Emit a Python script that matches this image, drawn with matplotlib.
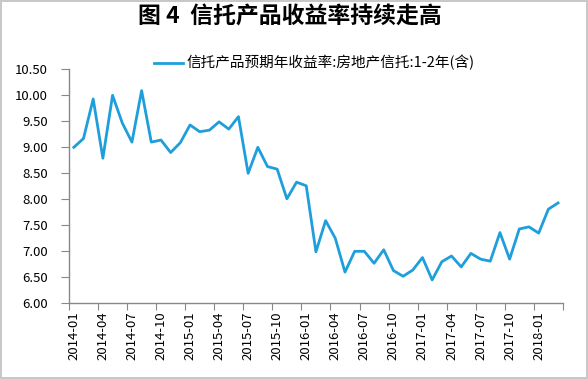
import numpy as np
import matplotlib.pyplot as plt

plt.rcParams['font.family'] = ['Noto Sans CJK SC', 'DejaVu Sans']

# 月度数据 2014-01 ~ 2018-03
months = [f"{2014 + i // 12}-{i % 12 + 1:02d}" for i in range(51)]
yields = [9.00, 9.17, 9.93, 8.79, 10.00, 9.47, 9.10, 10.09, 9.10, 9.14,
          8.90, 9.09, 9.43, 9.30, 9.33, 9.49, 9.35, 9.59, 8.50, 9.00,
          8.63, 8.58, 8.01, 8.33, 8.26, 6.99, 7.59, 7.25, 6.60, 7.00,
          7.00, 6.77, 7.03, 6.63, 6.52, 6.64, 6.88, 6.45, 6.80, 6.91,
          6.70, 6.96, 6.85, 6.81, 7.36, 6.85, 7.43, 7.47, 7.35, 7.81, 7.93]
series_name = '信托产品预期年收益率:房地产信托:1-2年(含)'
title = '图 4  信托产品收益率持续走高'

fig = plt.figure(figsize=(5.88, 3.79), dpi=100)
fig.patch.set_edgecolor('#c8c8c8')
fig.patch.set_linewidth(1.5)
ax = fig.add_axes([0.1173, 0.1997, 0.840, 0.6174])

x = np.arange(len(yields))
line, = ax.plot(x, yields, color='#1e9fdc', linewidth=2.0, label=series_name)

ax.set_ylim(6.0, 10.5)
ax.set_yticks(np.arange(6.0, 10.51, 0.5))
ax.set_yticklabels([f"{v:.2f}" for v in np.arange(6.0, 10.51, 0.5)])
ax.set_xlim(-0.5, len(yields) - 0.5)

# 主刻度在类别边界，标签在类别中心
ax.set_xticks(np.arange(-0.5, len(yields), 3))
ax.set_xticklabels([])
ax.set_xticks(x[::3], minor=True)
ax.set_xticklabels(months[::3], minor=True, rotation=90)
ax.tick_params(axis='x', which='minor', length=0, pad=6, labelsize=9.5)
ax.tick_params(axis='x', which='major', length=5, color='#888888', direction='out')
ax.tick_params(axis='y', length=6, color='#888888', labelsize=9.5, pad=9)

for s in ['top', 'right']:
    ax.spines[s].set_visible(False)
for s in ['left', 'bottom']:
    ax.spines[s].set_color('#888888')
    ax.spines[s].set_linewidth(1.0)

fig.text(0.493, 0.955, title, ha='center', va='center', fontsize=16.5, fontweight='bold')
fig.legend(handles=[line], loc='center', bbox_to_anchor=(0.535, 0.834), frameon=False,
           fontsize=10.5, handlelength=2.0, handletextpad=0.25)

fig.savefig('out.png', dpi=100)
